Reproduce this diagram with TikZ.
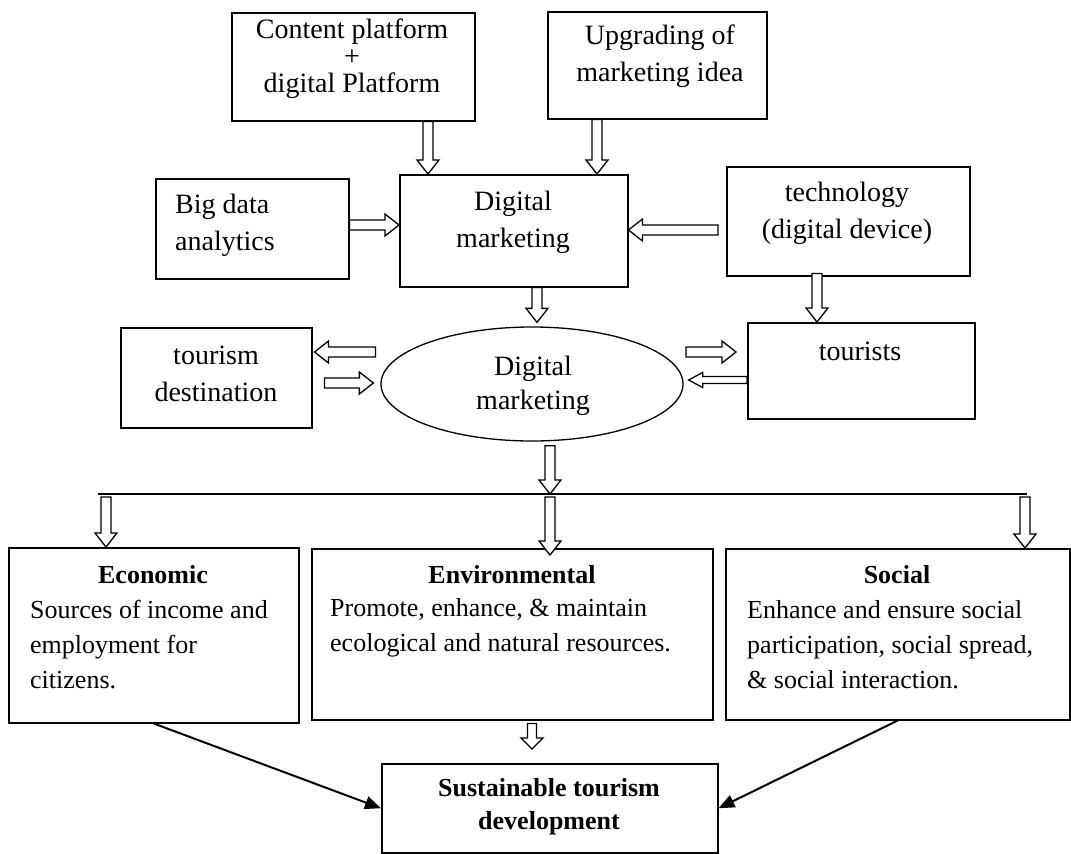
\documentclass[tikz,border=0pt]{standalone}
\usepackage{fontspec}
\setmainfont{Liberation Serif}
\usetikzlibrary{calc,arrows.meta,shapes.geometric}

\def\bsw{5pt}\def\bhw{11pt}\def\bhl{14pt}
\newcommand\blkdown[3][]{\draw[blk,#1] let \p1=#2, \p2=#3 in
  (\x1-\bsw,\y1) -- (\x1-\bsw,\y2+\bhl) -- (\x1-\bhw,\y2+\bhl) -- (\x1,\y2) --
  (\x1+\bhw,\y2+\bhl) -- (\x1+\bsw,\y2+\bhl) -- (\x1+\bsw,\y1) -- cycle;}
\newcommand\blkright[3][]{\draw[blk,#1] let \p1=#2, \p2=#3 in
  (\x1,\y1-\bsw) -- (\x2-\bhl,\y1-\bsw) -- (\x2-\bhl,\y1-\bhw) -- (\x2,\y1) --
  (\x2-\bhl,\y1+\bhw) -- (\x2-\bhl,\y1+\bsw) -- (\x1,\y1+\bsw) -- cycle;}
\newcommand\blkleft[3][]{\draw[blk,#1] let \p1=#2, \p2=#3 in
  (\x1,\y1-\bsw) -- (\x2+\bhl,\y1-\bsw) -- (\x2+\bhl,\y1-\bhw) -- (\x2,\y1) --
  (\x2+\bhl,\y1+\bhw) -- (\x2+\bhl,\y1+\bsw) -- (\x1,\y1+\bsw) -- cycle;}

\begin{document}
\begin{tikzpicture}[x=1pt,y=-1pt,
  box/.style={draw, line width=1.5pt, inner sep=0pt, anchor=north west},
  txt/.style={inner sep=0pt, align=center, font=\fontsize{28}{37}\selectfont},
  btxt/.style={inner sep=0pt, align=left, anchor=west, font=\fontsize{26}{35}\selectfont},
  ttl/.style={inner sep=0pt, font=\fontsize{26}{35}\selectfont\bfseries},
  blk/.style={draw, line width=1.3pt, fill=white, line join=miter},
  solidarrow/.style={line width=2pt, -{Triangle[length=16pt,width=13pt]}}]
\useasboundingbox (0,0) rectangle (1071,854);

% boxes
\node[box, minimum width=243pt, minimum height=108pt] (content) at (231,12) {};
\node[box, minimum width=219pt, minimum height=107pt] (upgrade) at (547,11) {};
\node[box, minimum width=193pt, minimum height=100pt] (bigdata) at (155,178) {};
\node[box, minimum width=228pt, minimum height=112pt] (dm) at (399,174) {};
\node[box, minimum width=243pt, minimum height=109pt] (tech) at (726,166) {};
\node[box, minimum width=227pt, minimum height=96pt] (tourists) at (747,322) {};
\node[box, minimum width=191pt, minimum height=100pt] (dest) at (120,327) {};
\node[draw, line width=1.3pt, ellipse, inner sep=0pt, minimum width=302pt, minimum height=114pt] (dm2) at (532,384) {};
\node[box, minimum width=290pt, minimum height=175pt] (econ) at (8,547) {};
\node[box, minimum width=401pt, minimum height=171pt] (env) at (311,548) {};
\node[box, minimum width=344pt, minimum height=171pt] (social) at (725,548) {};
\node[box, minimum width=336pt, minimum height=89pt] (sust) at (381,763) {};

% texts
\node[txt, font=\fontsize{28}{27}\selectfont] (tcontent) at (352,59) {Content platform\\+\\digital Platform};
\node[txt] (tupgrade) at (660,56.5) {Upgrading of\\marketing idea};
\node[txt] (tdm) at (513,222) {Digital\\marketing};
\node[txt, align=left, anchor=west] (tbig) at (175,225) {Big data\\analytics};
\node[txt] (ttech) at (847,213.5) {technology\\(digital device)};
\node[txt] (ttour) at (860,351) {tourists};
\node[txt] (tdest) at (216,374) {tourism\\destination};
\node[txt, font=\fontsize{28}{34}\selectfont] (tdm2) at (533,385.5) {Digital\\marketing};
\node[ttl] (tecon) at (153,575) {Economic};
\node[btxt] (becon) at (30,645) {Sources of income and\\employment for\\citizens.};
\node[ttl] (tenv) at (512,575) {Environmental};
\node[btxt] (benv) at (330,627.5) {Promote, enhance, \& maintain\\ecological and natural resources.};
\node[ttl] (tsoc) at (897,575) {Social};
\node[btxt] (bsoc) at (747,645) {Enhance and ensure social\\participation, social spread,\\\& social interaction.};
\node[ttl, align=center, font=\fontsize{26}{33}\selectfont\bfseries] (tsust) at (549,806.5) {Sustainable tourism\\development};

% block arrows
\blkdown{(428,0 |- content.south)}{(428,0 |- dm.north)}
\blkdown{(597,0 |- upgrade.south)}{(597,0 |- dm.north)}
\blkright{(bigdata.east |- 0,225)}{(dm.west |- 0,225)}
\blkleft{($(tech.west |- 0,230)+(-8,0)$)}{(dm.east |- 0,230)}
\blkdown{($(817,0 |- tech.south)+(0,-3)$)}{(817,0 |- tourists.north)}
\blkdown{(537,0 |- dm.south)}{($(537,0 |- dm2.north)+(0,-4)$)}
\blkleft{($(dest.east |- 0,352)+(63,0)$)}{($(dest.east |- 0,352)+(2,0)$)}
\blkright{($(dest.east |- 0,383)+(12,0)$)}{($(dm2.west |- 0,383)+(-7,0)$)}
\blkright{($(tourists.west |- 0,352)+(-61,0)$)}{($(tourists.west |- 0,352)+(-11,0)$)}
{\def\bsw{3.5pt}\def\bhw{7.5pt}\blkleft{(tourists.west |- 0,380)}{($(dm2.east |- 0,380)+(5,0)$)}}

% bar
\coordinate (barL) at (98,494);
\coordinate (barR) at (1027,494);
\draw[line width=1.5pt] (barL) -- (barR);
\blkdown{($(550,0 |- dm2.south)+(0,4)$)}{(550,0 |- barL)}
\blkdown{($(106,0 |- barL)+(0,3)$)}{(106,0 |- econ.north)}
\blkdown{($(550,0 |- barL)+(0,3)$)}{($(550,0 |- env.north)+(0,7)$)}
\blkdown{($(1025,0 |- barL)+(0,3)$)}{(1025,0 |- social.north)}
{\def\bsw{4.5pt}\def\bhw{11pt}\def\bhl{11pt}\blkdown{($(532,0 |- env.south)+(0,3)$)}{($(532,0 |- sust.north)+(0,-14)$)}}

% solid arrows
\draw[solidarrow] (econ.south) -- (sust.west);
\draw[solidarrow] (social.south) -- (sust.east);
\end{tikzpicture}
\end{document}
